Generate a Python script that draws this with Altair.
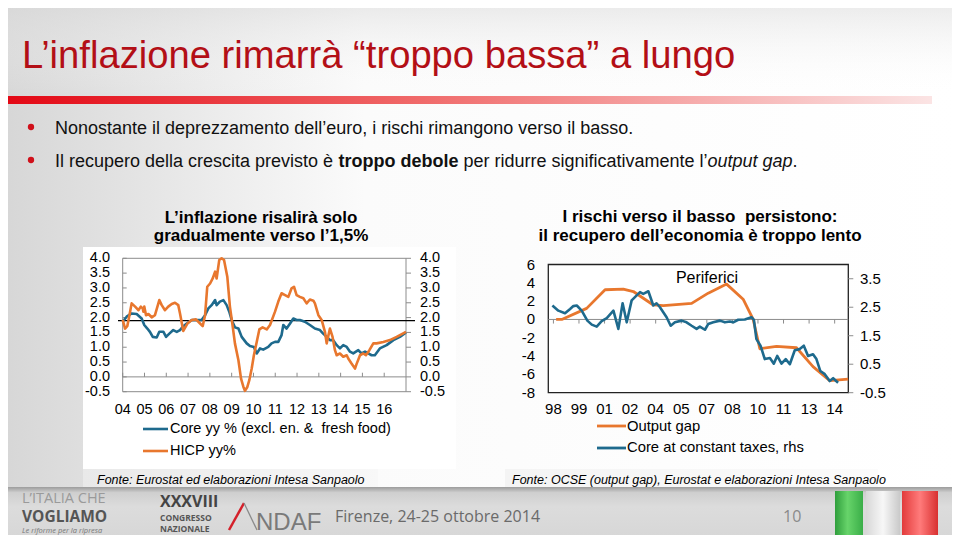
import altair as alt
import pandas as pd

# ------------------------------------------------------------------ data
# Left chart: euro-area inflation, % y/y (decimal years)
hicp_t = [2004.00, 2004.11, 2004.21, 2004.31, 2004.41, 2004.57, 2004.72, 2004.83, 2004.92, 2004.95,
          2004.99, 2005.07, 2005.18, 2005.33, 2005.48, 2005.68, 2005.79, 2005.94, 2006.09, 2006.25,
          2006.40, 2006.55, 2006.63, 2006.78, 2006.97, 2007.17, 2007.36, 2007.55, 2007.67, 2007.78,
          2007.88, 2008.01, 2008.13, 2008.24, 2008.31, 2008.43, 2008.54, 2008.65, 2008.80, 2008.92,
          2009.05, 2009.15, 2009.31, 2009.43, 2009.54, 2009.61, 2009.72, 2009.81, 2009.92, 2010.02,
          2010.15, 2010.27, 2010.42, 2010.61, 2010.76, 2010.99, 2011.14, 2011.29, 2011.45, 2011.60,
          2011.75, 2011.86, 2011.98, 2012.13, 2012.29, 2012.44, 2012.59, 2012.75, 2012.82, 2012.98,
          2013.13, 2013.28, 2013.36, 2013.51, 2013.63, 2013.74, 2013.82, 2013.97, 2014.12, 2014.28,
          2014.35, 2014.50, 2014.66, 2014.73, 2014.89, 2015.04, 2015.16, 2015.32, 2015.50, 2015.65,
          2015.96, 2016.26, 2016.57, 2017.00]
hicp_v = [1.92, 1.63, 1.71, 2.08, 2.48, 2.37, 2.25, 2.37, 2.31, 2.20,
          2.37, 2.08, 2.12, 2.01, 2.08, 2.59, 2.42, 2.25, 2.37, 2.46,
          2.50, 2.42, 2.14, 1.55, 1.80, 1.92, 1.94, 1.80, 1.71, 2.08,
          3.04, 3.15, 3.32, 3.55, 3.32, 3.94, 4.00, 3.94, 3.38, 2.37,
          1.69, 1.13, 0.56, -0.06, -0.34, -0.47, -0.34, -0.11, 0.28, 0.73,
          1.18, 1.60, 1.67, 1.60, 1.75, 2.20, 2.54, 2.82, 2.76, 2.70,
          2.99, 3.04, 2.76, 2.70, 2.65, 2.48, 2.61, 2.57, 2.48, 2.08,
          1.92, 1.52, 1.13, 1.63, 1.35, 0.90, 0.73, 0.79, 0.68, 0.73,
          0.62, 0.45, 0.28, 0.43, 0.73, 0.79, 0.73, 0.90, 1.13, 1.13,
          1.18, 1.24, 1.35, 1.52]
core_t = [2004.00, 2004.18, 2004.41, 2004.64, 2004.87, 2004.99, 2005.13, 2005.25, 2005.38, 2005.56,
          2005.68, 2005.87, 2005.99, 2006.14, 2006.32, 2006.48, 2006.63, 2006.78, 2006.94, 2007.17,
          2007.39, 2007.62, 2007.78, 2007.93, 2008.08, 2008.24, 2008.31, 2008.46, 2008.62, 2008.77,
          2008.89, 2009.00, 2009.15, 2009.31, 2009.46, 2009.69, 2009.84, 2010.02, 2010.15, 2010.30,
          2010.45, 2010.68, 2010.83, 2010.99, 2011.14, 2011.29, 2011.37, 2011.52, 2011.68, 2011.83,
          2011.98, 2012.13, 2012.36, 2012.59, 2012.82, 2013.05, 2013.20, 2013.36, 2013.51, 2013.66,
          2013.82, 2013.97, 2014.12, 2014.28, 2014.43, 2014.58, 2014.81, 2014.96, 2015.12, 2015.27,
          2015.42, 2015.57, 2015.80, 2016.11, 2016.42, 2016.72, 2017.00]
core_v = [1.86, 2.03, 2.14, 2.12, 1.97, 1.75, 1.63, 1.52, 1.35, 1.33,
          1.52, 1.52, 1.35, 1.46, 1.58, 1.52, 1.58, 1.71, 1.80, 1.92,
          1.92, 1.92, 2.08, 2.31, 2.42, 2.59, 2.42, 2.54, 2.59, 2.42,
          2.20, 1.92, 1.67, 1.63, 1.35, 1.13, 1.04, 1.01, 0.79, 0.96,
          0.92, 1.01, 1.13, 1.18, 1.18, 1.41, 1.75, 1.63, 1.80, 1.97,
          1.92, 1.92, 1.86, 1.75, 1.63, 1.58, 1.46, 1.35, 1.24, 1.24,
          1.07, 0.96, 1.07, 1.01, 0.85, 0.79, 0.90, 0.79, 0.85, 0.79,
          0.73, 0.73, 0.96, 1.07, 1.24, 1.35, 1.50]
left_x_domain = [2004, 2017]
left_y_domain = [-0.5, 4.0]
left_x_ticks = [2004, 2005, 2006, 2007, 2008, 2009, 2010, 2011, 2012, 2013, 2014, 2015, 2016]
left_x_labels = ["04", "05", "06", "07", "08", "09", "10", "11", "12", "13", "14", "15", "16"]
left_y_ticks = [-0.5, 0.0, 0.5, 1.0, 1.5, 2.0, 2.5, 3.0, 3.5, 4.0]
left_y_labels = ["-0.5", "0.0", "0.5", "1.0", "1.5", "2.0", "2.5", "3.0", "3.5", "4.0"]
target_value = [1.9]

# Right chart: peripheral countries
gap_t = [1998.16, 1998.49, 1999.95, 2001.03, 2002.10, 2002.69, 2003.86, 2004.45, 2006.11, 2007.08,
         2008.16, 2009.13, 2009.72, 2010.11, 2011.09, 2012.26, 2013.23, 2014.21, 2015.29]
gap_v = [0.0, 0.0, 1.21, 3.24, 3.31, 3.05, 1.58, 1.51, 1.76, 2.87,
         3.86, 2.21, 0.0, -3.20, -2.94, -3.09, -5.15, -6.69, -6.51]
ct_t = [1997.94, 1998.29, 1998.68, 1998.98, 1999.17, 1999.37, 1999.66, 1999.99, 2000.25, 2000.54,
        2000.83, 2001.13, 2001.52, 2001.81, 2002.06, 2002.30, 2002.59, 2003.08, 2003.27, 2003.57,
        2003.86, 2004.05, 2004.25, 2004.64, 2004.88, 2005.13, 2005.52, 2005.81, 2006.11, 2006.40,
        2006.59, 2006.89, 2007.08, 2007.38, 2007.77, 2008.06, 2008.35, 2008.55, 2008.84, 2009.23,
        2009.62, 2009.76, 2009.91, 2010.15, 2010.40, 2010.70, 2010.93, 2011.13, 2011.38, 2011.63,
        2011.87, 2012.16, 2012.45, 2012.69, 2012.94, 2013.23, 2013.43, 2013.66, 2013.92, 2014.21,
        2014.41, 2014.70]
ct_v = [2.56, 2.38, 2.29, 2.44, 2.54, 2.56, 2.38, 2.03, 1.89, 1.82,
        2.01, 2.12, 2.38, 1.74, 2.64, 1.97, 2.74, 3.03, 2.97, 3.06,
        2.56, 2.64, 2.50, 2.15, 1.85, 1.97, 2.03, 1.97, 1.85, 1.74,
        1.82, 1.71, 1.91, 1.97, 2.03, 1.97, 2.00, 1.97, 2.06, 2.07,
        2.15, 2.06, 1.38, 1.15, 0.68, 0.72, 0.52, 0.79, 0.52, 0.68,
        0.50, 0.99, 1.03, 1.15, 0.79, 0.85, 0.68, 0.26, 0.15, -0.09,
        0.01, -0.15]
right_x_domain = [1997.7, 2015.3]
gap_domain = [-8, 6]
ct_domain = [-0.5, 4.0]
right_x_ticks = [1998, 1999.5, 2001, 2002.5, 2004, 2005.5, 2007, 2008.5, 2010, 2011.5, 2013, 2014.5]
right_x_labels = ["98", "99", "01", "02", "04", "05", "07", "08", "10", "11", "13", "14"]
gap_ticks = [-8, -6, -4, -2, 0, 2, 4, 6]
gap_labels = ["-8", "-6", "-4", "-2", "0", "2", "4", "6"]
ct_ticks = [-0.5, 0.5, 1.5, 2.5, 3.5]
ct_labels = ["-0.5", "0.5", "1.5", "2.5", "3.5"]

# ------------------------------------------------------------------ helpers
OFF = 8  # page margin: page coordinate -> svg coordinate


def P(v):
    return v - OFF


SANS = "Liberation Sans, Arial, Helvetica, sans-serif"
OPEN = "Open Sans, Liberation Sans, sans-serif"
ORANGE = "#E8772E"
BLUE = "#1E6A8D"
ONE = alt.Data(values=[{"k": 0}])
NB = "\u00a0"


def grad(stops, x1=0.0, y1=0.0, x2=1.0, y2=0.0):
    return alt.Gradient(gradient="linear", x1=x1, y1=y1, x2=x2, y2=y2,
                        stops=[alt.GradientStop(offset=o, color=c) for o, c in stops])


def box(x1, y1, x2, y2, **mk):
    return alt.Chart(ONE).mark_rect(**mk).encode(
        x=alt.value(P(x1)), x2=alt.value(P(x2)), y=alt.value(P(y1)), y2=alt.value(P(y2)))


def seg(x1, y1, x2, y2, color, w=1.0):
    return alt.Chart(ONE).mark_rule(color=color, strokeWidth=w).encode(
        x=alt.value(P(x1)), x2=alt.value(P(x2)), y=alt.value(P(y1)), y2=alt.value(P(y2)))


def label(s, x, y, size, color="#000000", font=SANS, weight="normal", style="normal",
          align="left", baseline="alphabetic"):
    return alt.Chart(ONE).mark_text(text=s, fontSize=size, color=color, font=font,
                                    fontWeight=weight, fontStyle=style, align=align,
                                    baseline=baseline).encode(x=alt.value(P(x)), y=alt.value(P(y)))


def sc(domain, r0, r1):
    return alt.Scale(domain=domain, range=[r0, r1], nice=False, zero=False)


# plot rectangles (page coordinates)
LX0, LX1, LY_TOP, LY_BOT = 122.7, 406.0, 258.3, 391.7
RX0, RX1, RY_TOP, RY_BOT = 548.3, 848.3, 264.5, 392.7


def lx(f):
    return alt.X(f"{f}:Q", scale=sc(left_x_domain, P(LX0), P(LX1)), axis=None)


def ly(f):
    return alt.Y(f"{f}:Q", scale=sc(left_y_domain, P(LY_BOT), P(LY_TOP)), axis=None)


def rx(f):
    return alt.X(f"{f}:Q", scale=sc(right_x_domain, P(RX0), P(RX1)), axis=None)


def gy(f):
    return alt.Y(f"{f}:Q", scale=sc(gap_domain, P(RY_BOT), P(RY_TOP)), axis=None)


def cy(f):
    return alt.Y(f"{f}:Q", scale=sc(ct_domain, P(RY_BOT), P(RY_TOP)), axis=None)


layers = []

# ------------------------------------------------------------------ slide background
layers.append(box(0, 0, 960, 543, fill=grad([(0, "#d6d6d6"), (0.38, "#fbfbfb"), (1, "#ffffff")])))
layers.append(box(0, 0, 960, 96, fill=grad([(0, "rgba(215,215,215,0.55)"), (1, "rgba(255,255,255,0)")],
                                           x1=0, y1=0, x2=0, y2=1)))
layers.append(box(0, 96, 932, 104, fill=grad([(0, "#e30613"), (0.45, "#f06a6a"), (1, "#fbe4e4")])))
layers.append(label("L\u2019inflazione rimarr\u00e0 \u201ctroppo bassa\u201d a lungo", 22, 68, 38.2,
                    color="#B30F16"))

# bullets
TXT = "#111111"
for yy in (127, 160):
    layers.append(alt.Chart(ONE).mark_circle(size=40, color="#D0101A", opacity=1).encode(
        x=alt.value(P(31)), y=alt.value(P(yy))))
layers.append(label("Nonostante il deprezzamento dell\u2019euro, i rischi rimangono verso il basso.",
                    55, 134, 18, color=TXT))
layers.append(label("Il recupero della crescita previsto \u00e8", 55, 167, 18, color=TXT))
layers.append(label("troppo debole", 338.5, 167, 18, color=TXT, weight="bold"))
layers.append(label("per ridurre significativamente l\u2019", 463.5, 167, 18, color=TXT))
layers.append(label("output gap", 707.5, 167, 18, color=TXT, style="italic"))
layers.append(label(".", 792.5, 167, 18, color=TXT))

# white panel behind the left chart, source strips, footer
layers.append(box(83, 247, 456, 469, fill="#ffffff"))
layers.append(box(83, 469, 378, 489, fill=grad([(0, "#e9e9e9"), (1, "#f8f8f8")])))
layers.append(box(505, 469, 878, 489, fill=grad([(0, "#f4f4f4"), (1, "#fbfbfb")])))
layers.append(box(0, 487, 960, 543, fill=grad([(0, "#9c9c9c"), (0.1, "#cfcfcf"), (0.35, "#dcdcdc"),
                                               (1, "#d6d6d6")], x1=0, y1=0, x2=0, y2=1)))
layers.append(label("Fonte: Eurostat ed elaborazioni Intesa Sanpaolo", 97, 484, 12.5, style="italic"))
layers.append(label("Fonte: OCSE (output gap), Eurostat e elaborazioni Intesa Sanpaolo", 512, 484, 12.5,
                    style="italic"))

# footer logos / texts
layers.append(label("L\u2019ITALIA CHE", 22, 503, 14.5, color="#9a9a9a", font=OPEN))
layers.append(label("VOGLIAMO", 22, 522, 15.5, color="#555555", font=OPEN, weight="bold"))
layers.append(label("Le riforme per la ripresa", 22, 533, 7.5, color="#777777", font=OPEN, style="italic"))
layers.append(label("XXXVIII", 160, 507, 16, color="#444444", font=OPEN, weight="bold"))
layers.append(label("CONGRESSO", 160, 521, 8.5, color="#555555", font=OPEN, weight="bold"))
layers.append(label("NAZIONALE", 160, 532, 8.5, color="#555555", font=OPEN, weight="bold"))
layers.append(seg(229, 530, 244, 503, "#D4202A", 2.5))
layers.append(seg(244, 503, 257, 530, "#8a8a8a", 1.3))
layers.append(label("NDAF", 256, 530, 24, color="#7a7a7a"))
layers.append(label("Firenze, 24-25 ottobre 2014", 335, 522, 16, color="#6a6a6a", font=OPEN))
layers.append(label("10", 783, 522, 16, color="#8a8a8a", font=OPEN))
layers.append(box(835, 491, 863, 543, fill=grad([(0, "#2f9e3c"), (0.45, "#67d46a"), (1, "#3aae48")])))
layers.append(box(866, 491, 900, 543, fill=grad([(0, "#d8d8d8"), (0.5, "#f7f7f7"), (1, "#c9c9c9")])))
layers.append(box(902, 491, 938, 543, fill=grad([(0, "#e23b3b"), (0.5, "#ff7b7b"), (1, "#d83030")])))

# chart titles
layers.append(label("L\u2019inflazione risalir\u00e0 solo", 261, 223, 17, weight="bold", align="center"))
layers.append(label("gradualmente verso l\u20191,5%", 261, 241, 17, weight="bold", align="center"))
layers.append(label("I rischi verso il basso" + NB + " persistono:", 700, 222, 17, weight="bold",
                    align="center"))
layers.append(label("il recupero dell\u2019economia \u00e8 troppo lento", 700, 241, 17, weight="bold",
                    align="center"))

# ------------------------------------------------------------------ left chart
lframe = pd.DataFrame({"x0": [left_x_domain[0]], "x1": [left_x_domain[1]],
                       "y0": [left_y_domain[0]], "y1": [left_y_domain[1]], "z": [0.0]})
layers.append(alt.Chart(lframe).mark_rect(fill="#ffffff", stroke="#8c8c8c", strokeWidth=1).encode(
    x=lx("x0"), x2=alt.X2("x1"), y=ly("y0"), y2=alt.Y2("y1")))
layers.append(alt.Chart(lframe).mark_rule(color="#8c8c8c", strokeWidth=1).encode(
    x=lx("x0"), x2=alt.X2("x1"), y=ly("z")))
ly_df = pd.DataFrame({"v": left_y_ticks, "s": left_y_labels})
layers.append(alt.Chart(ly_df).mark_rule(color="#8c8c8c").encode(
    x=alt.value(P(LX0)), x2=alt.value(P(LX0 + 4)), y=ly("v")))
layers.append(alt.Chart(ly_df).mark_rule(color="#8c8c8c").encode(
    x=alt.value(P(LX1)), x2=alt.value(P(LX1 + 5)), y=ly("v")))
lx_df = pd.DataFrame({"t": left_x_ticks, "s": left_x_labels, "y0": 0.0, "y1": 0.14})
layers.append(alt.Chart(lx_df).mark_rule(color="#8c8c8c").encode(
    x=lx("t"), y=ly("y0"), y2=alt.Y2("y1")))
layers.append(alt.Chart(pd.DataFrame({"v": target_value})).mark_rule(color="#000000", strokeWidth=1.3).encode(
    x=alt.value(P(118)), x2=alt.value(P(415)), y=ly("v")))
layers.append(alt.Chart(pd.DataFrame({"t": core_t, "v": core_v})).mark_line(
    color=BLUE, strokeWidth=2.6, strokeJoin="round").encode(x=lx("t"), y=ly("v")))
layers.append(alt.Chart(pd.DataFrame({"t": hicp_t, "v": hicp_v})).mark_line(
    color=ORANGE, strokeWidth=2.6, strokeJoin="round").encode(x=lx("t"), y=ly("v")))
layers.append(alt.Chart(ly_df).mark_text(align="right", baseline="middle", fontSize=14.5, font=SANS,
                                         color="#000000").encode(
    x=alt.value(P(110)), y=ly("v"), text="s:N"))
layers.append(alt.Chart(ly_df).mark_text(align="left", baseline="middle", fontSize=14.5, font=SANS,
                                         color="#000000").encode(
    x=alt.value(P(420)), y=ly("v"), text="s:N"))
layers.append(alt.Chart(lx_df).mark_text(align="center", baseline="middle", fontSize=14.5, font=SANS,
                                         color="#000000").encode(
    x=lx("t"), y=alt.value(P(410)), text="s:N"))

# legend left
layers.append(seg(143, 429, 168, 429, BLUE, 2.6))
layers.append(label("Core yy % (excl. en. &" + NB + " fresh food)", 170, 429, 14.5, baseline="middle"))
layers.append(seg(143, 451, 168, 451, ORANGE, 2.6))
layers.append(label("HICP yy%", 170, 451, 14.5, baseline="middle"))

# ------------------------------------------------------------------ right chart
rframe = pd.DataFrame({"x0": [right_x_domain[0]], "x1": [right_x_domain[1]],
                       "y0": [gap_domain[0]], "y1": [gap_domain[1]], "z": [0.0]})
layers.append(alt.Chart(rframe).mark_rect(fill="#ffffff", stroke="#222222", strokeWidth=1.3).encode(
    x=rx("x0"), x2=alt.X2("x1"), y=gy("y0"), y2=alt.Y2("y1")))
layers.append(alt.Chart(rframe).mark_rule(color="#8c8c8c", strokeWidth=1).encode(
    x=rx("x0"), x2=alt.X2("x1"), y=gy("z")))
rx_df = pd.DataFrame({"t": right_x_ticks, "s": right_x_labels, "y0": 0.0, "y1": -0.45})
layers.append(alt.Chart(rx_df).mark_rule(color="#8c8c8c").encode(
    x=rx("t"), y=gy("y0"), y2=alt.Y2("y1")))
ct_df = pd.DataFrame({"v": ct_ticks, "s": ct_labels})
layers.append(alt.Chart(ct_df).mark_rule(color="#8c8c8c").encode(
    x=alt.value(P(RX1)), x2=alt.value(P(RX1 + 5)), y=cy("v")))
layers.append(alt.Chart(pd.DataFrame({"t": gap_t, "v": gap_v})).mark_line(
    color=ORANGE, strokeWidth=2.8, strokeJoin="round").encode(x=rx("t"), y=gy("v")))
layers.append(alt.Chart(pd.DataFrame({"t": ct_t, "v": ct_v})).mark_line(
    color=BLUE, strokeWidth=2.6, strokeJoin="round").encode(x=rx("t"), y=cy("v")))
gap_df = pd.DataFrame({"v": gap_ticks, "s": gap_labels})
layers.append(alt.Chart(gap_df).mark_text(align="right", baseline="middle", fontSize=15, font=SANS,
                                          color="#000000").encode(
    x=alt.value(P(535)), y=gy("v"), text="s:N"))
layers.append(alt.Chart(ct_df).mark_text(align="left", baseline="middle", fontSize=15, font=SANS,
                                         color="#000000").encode(
    x=alt.value(P(860)), y=cy("v"), text="s:N"))
layers.append(alt.Chart(rx_df).mark_text(align="center", baseline="middle", fontSize=15, font=SANS,
                                         color="#000000").encode(
    x=rx("t"), y=alt.value(P(409)), text="s:N"))
layers.append(label("Periferici", 707, 278, 16, align="center", baseline="middle"))

# legend right
layers.append(seg(597, 426, 626, 426, ORANGE, 2.8))
layers.append(label("Output gap", 627, 426.5, 14.8, baseline="middle"))
layers.append(seg(597, 448, 626, 448, BLUE, 2.8))
layers.append(label("Core at constant taxes, rhs", 627, 448, 14.8, baseline="middle"))

chart = alt.layer(*layers).resolve_scale(x="independent", y="independent").properties(
    width=944, height=527, autosize=alt.AutoSizeParams(type="none"), padding=0,
    background="#ffffff").configure_view(stroke=None)

chart.save("out.html", embed_options={"renderer": "svg", "actions": False})
